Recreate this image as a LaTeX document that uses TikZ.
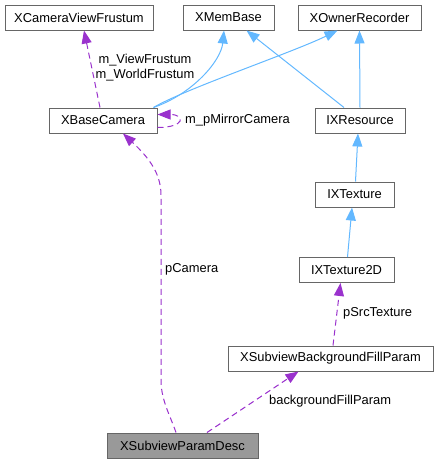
\documentclass[tikz,border=0pt]{standalone}
\usepackage{fontspec}
\setmainfont{Liberation Sans}
\usetikzlibrary{arrows.meta}
\definecolor{boxborder}{HTML}{666666}
\definecolor{inh}{HTML}{63B8FF}
\definecolor{use}{HTML}{9A32CD}
\definecolor{cur}{HTML}{999999}
\begin{document}
\begin{tikzpicture}[x=1pt,y=-1pt,
  box/.style={draw=boxborder, fill=white, line width=1pt, inner sep=0pt,
    minimum height=25pt, font=\fontsize{12.9}{15}\selectfont},
  inhedge/.style={draw=inh, line width=1pt, -{Triangle[length=13pt,width=10pt]}},
  useedge/.style={draw=use, line width=1pt, dash pattern=on 6pt off 4pt,
    -{Triangle[length=13pt,width=10pt]}},
  lbl/.style={font=\fontsize{12.9}{15}\selectfont, inner sep=0pt}
]
\useasboundingbox (0,0) rectangle (439,464);

% nodes
\node[box, minimum width=148pt] (cvf) at (79,17.5) {XCameraViewFrustum};
\node[box, minimum width=91pt] (mb) at (228.5,17.5) {XMemBase};
\node[box, minimum width=123pt] (xor) at (359.5,17.5) {XOwnerRecorder};
\node[box, minimum width=108pt] (bc) at (103,120.5) {XBaseCamera};
\node[box, minimum width=90pt] (ixr) at (360,120.5) {IXResource};
\node[box, minimum width=79pt] (ixt) at (354.5,194.5) {IXTexture};
\node[box, minimum width=95pt] (ixt2d) at (346.5,270) {IXTexture2D};
\node[box, minimum width=205pt] (bfp) at (330.5,358.5) {XSubviewBackgroundFillParam};
\node[box, minimum width=151pt, fill=cur] (spd) at (182.5,445.5) {XSubviewParamDesc};

% inheritance edges
\draw[inhedge] ([xshift=-4pt]bc.north east) .. controls +(40,-14) and +(-3,30) .. ([xshift=-4.5pt]mb.south);
\draw[inhedge] ([xshift=-4pt]bc.north east) .. controls +(30,-18) and +(-45,22) .. ([xshift=-22pt]xor.south);
\draw[inhedge] ([xshift=-16pt]ixr.north) -- ([xshift=18pt]mb.south);
\draw[inhedge] (ixr.north) -- (xor.south);
\draw[inhedge] ([xshift=1pt]ixt.north) -- ([xshift=-2pt]ixr.south);
\draw[inhedge] ([xshift=1pt]ixt2d.north) -- ([xshift=-2.5pt]ixt.south);

% usage edges
\draw[useedge] ([xshift=-3pt]bc.north) -- ([xshift=5pt]cvf.south);
\node[lbl, align=center] (lfrust) at (145,68) {m\_ViewFrustum\\m\_WorldFrustum};
\draw[useedge] ([yshift=-7pt]bc.east) .. controls +(28,0) and +(28,0) .. ([yshift=6pt]bc.east);
\node[lbl, anchor=west] (lmirror) at (185,120) {m\_pMirrorCamera};
\draw[useedge] ([xshift=-6.5pt]spd.north) .. controls (170,415) and (161,400) .. (161,380)
  -- (161,195) .. controls (161,172) and (147,156) .. ([xshift=20pt]bc.south);
\node[lbl, anchor=west] (lcam) at (165,269) {pCamera};
\draw[useedge] ([xshift=2.5pt]bfp.north) -- ([xshift=-6pt]ixt2d.south);
\node[lbl, anchor=west] (lsrc) at (343,313) {pSrcTexture};
\draw[useedge] ([xshift=24.5pt]spd.north) -- ([xshift=-32pt]bfp.south);
\node[lbl, anchor=west] (lbfp) at (269,401) {backgroundFillParam};
\end{tikzpicture}
\end{document}
